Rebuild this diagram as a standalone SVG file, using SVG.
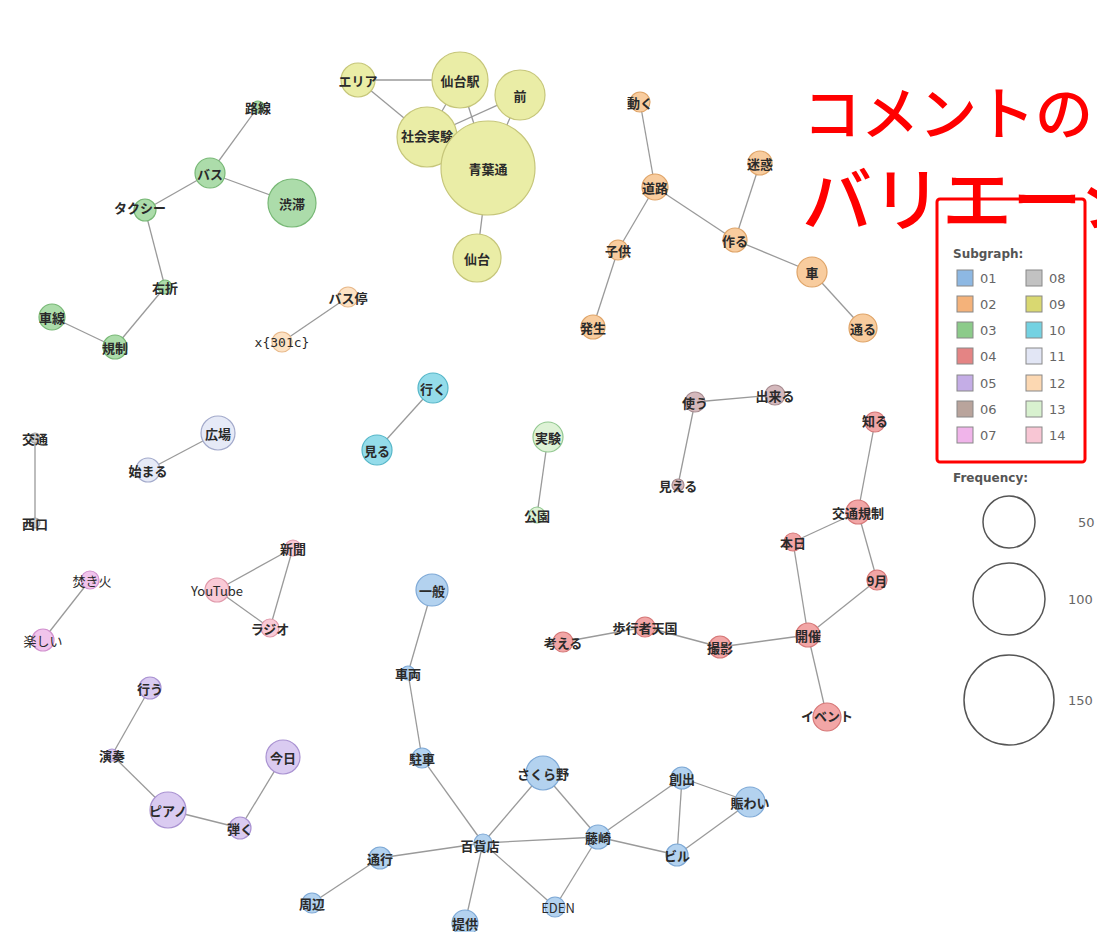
<svg xmlns="http://www.w3.org/2000/svg" width="1097" height="932" viewBox="0 0 1097 932">
<style>
.e{stroke:#9a9a9a;stroke-width:1.3;fill:none}
.n{stroke-width:1.2}
.t{font-family:"Noto Sans CJK JP","Noto Sans",sans-serif;font-size:13px;font-weight:bold;fill:#2a2a2a;text-anchor:middle;dominant-baseline:central}
.g01{fill:#b3d2ef;stroke:#7ea9d6}.g02{fill:#f8cc9e;stroke:#dfa468}.g03{fill:#acdcaa;stroke:#78b876}
.g04{fill:#f2a6a6;stroke:#d67878}.g05{fill:#dacbf1;stroke:#aa93d2}.g06{fill:#d4b8bc;stroke:#a88c90}
.g07{fill:#f1c4ec;stroke:#d292cf}.g08{fill:#d0d0d0;stroke:#a0a0a0}.g09{fill:#eaeda6;stroke:#c6c67a}
.g10{fill:#94dcea;stroke:#55b6c8}.g11{fill:#e6eaf7;stroke:#a3aacb}.g12{fill:#fde2c4;stroke:#e8b98a}
.g13{fill:#def2d6;stroke:#92c890}.g14{fill:#f9cad6;stroke:#e09aab}
.lg{font-family:"DejaVu Sans","Liberation Sans",sans-serif;font-size:13px;fill:#666}
.lh{font-family:"DejaVu Sans","Liberation Sans",sans-serif;font-size:12px;font-weight:bold;fill:#555}
.sq{stroke:#888;stroke-width:1}
.title{font-family:"Noto Sans CJK JP",sans-serif;font-weight:500;fill:#ff0000}
</style>
<rect width="1097" height="932" fill="#ffffff"/>
<g id="connectors">
<line class="e" x1="258" y1="107" x2="210" y2="173"/>
<line class="e" x1="210" y1="173" x2="292" y2="203"/>
<line class="e" x1="210" y1="173" x2="145" y2="210"/>
<line class="e" x1="145" y1="210" x2="165" y2="287"/>
<line class="e" x1="165" y1="287" x2="115" y2="347"/>
<line class="e" x1="115" y1="347" x2="52" y2="317"/>
<line class="e" x1="348" y1="297" x2="282" y2="342"/>
<line class="e" x1="358" y1="80" x2="460" y2="80"/>
<line class="e" x1="358" y1="80" x2="427" y2="137"/>
<line class="e" x1="460" y1="80" x2="427" y2="137"/>
<line class="e" x1="460" y1="80" x2="488" y2="168"/>
<line class="e" x1="520" y1="95" x2="427" y2="137"/>
<line class="e" x1="520" y1="95" x2="488" y2="168"/>
<line class="e" x1="427" y1="137" x2="488" y2="168"/>
<line class="e" x1="488" y1="168" x2="477" y2="258"/>
<line class="e" x1="640" y1="102" x2="655" y2="187"/>
<line class="e" x1="655" y1="187" x2="618" y2="250"/>
<line class="e" x1="618" y1="250" x2="593" y2="327"/>
<line class="e" x1="655" y1="187" x2="735" y2="240"/>
<line class="e" x1="760" y1="163" x2="735" y2="240"/>
<line class="e" x1="735" y1="240" x2="812" y2="272"/>
<line class="e" x1="812" y1="272" x2="863" y2="328"/>
<line class="e" x1="218" y1="433" x2="148" y2="470"/>
<line class="e" x1="35" y1="438" x2="35" y2="523"/>
<line class="e" x1="433" y1="388" x2="377" y2="450"/>
<line class="e" x1="548" y1="437" x2="537" y2="515"/>
<line class="e" x1="695" y1="402" x2="775" y2="395"/>
<line class="e" x1="695" y1="402" x2="678" y2="485"/>
<line class="e" x1="875" y1="422" x2="858" y2="512"/>
<line class="e" x1="858" y1="512" x2="793" y2="542"/>
<line class="e" x1="858" y1="512" x2="877" y2="580"/>
<line class="e" x1="877" y1="580" x2="808" y2="635"/>
<line class="e" x1="793" y1="542" x2="808" y2="635"/>
<line class="e" x1="808" y1="635" x2="827" y2="717"/>
<line class="e" x1="808" y1="635" x2="720" y2="647"/>
<line class="e" x1="720" y1="647" x2="645" y2="627"/>
<line class="e" x1="645" y1="627" x2="563" y2="642"/>
<line class="e" x1="293" y1="548" x2="217" y2="590"/>
<line class="e" x1="293" y1="548" x2="270" y2="628"/>
<line class="e" x1="217" y1="590" x2="270" y2="628"/>
<line class="e" x1="90" y1="580" x2="43" y2="640"/>
<line class="e" x1="150" y1="688" x2="112" y2="755"/>
<line class="e" x1="112" y1="755" x2="168" y2="810"/>
<line class="e" x1="168" y1="810" x2="240" y2="828"/>
<line class="e" x1="240" y1="828" x2="283" y2="757"/>
<line class="e" x1="432" y1="590" x2="408" y2="673"/>
<line class="e" x1="408" y1="673" x2="422" y2="758"/>
<line class="e" x1="422" y1="758" x2="483" y2="843"/>
<line class="e" x1="543" y1="773" x2="483" y2="843"/>
<line class="e" x1="543" y1="773" x2="598" y2="837"/>
<line class="e" x1="483" y1="843" x2="598" y2="837"/>
<line class="e" x1="483" y1="843" x2="380" y2="858"/>
<line class="e" x1="380" y1="858" x2="312" y2="903"/>
<line class="e" x1="483" y1="843" x2="465" y2="923"/>
<line class="e" x1="483" y1="843" x2="555" y2="907"/>
<line class="e" x1="598" y1="837" x2="555" y2="907"/>
<line class="e" x1="598" y1="837" x2="682" y2="778"/>
<line class="e" x1="598" y1="837" x2="677" y2="855"/>
<line class="e" x1="682" y1="778" x2="677" y2="855"/>
<line class="e" x1="682" y1="778" x2="750" y2="802"/>
<line class="e" x1="750" y1="802" x2="677" y2="855"/>
</g>
<g id="title">
<text class="title" x="803" y="135" font-size="58">コメントの</text>
<text class="title" x="802" y="226" font-size="70">バリエーシ</text>
</g>
<g id="n-rosen"><circle class="n g03" cx="258" cy="107" r="6"/><text class="t" x="258" y="107">路線</text></g>
<g id="n-bus"><circle class="n g03" cx="210" cy="173" r="15"/><text class="t" x="210" y="173">バス</text></g>
<g id="n-jutai"><circle class="n g03" cx="292" cy="203" r="24"/><text class="t" x="292" y="203">渋滞</text></g>
<g id="n-taxi"><circle class="n g03" cx="145" cy="210" r="11"/><text class="t" x="140" y="207">タクシー</text></g>
<g id="n-usetsu"><circle class="n g03" cx="165" cy="287" r="7"/><text class="t" x="165" y="287">右折</text></g>
<g id="n-shasen"><circle class="n g03" cx="52" cy="317" r="13"/><text class="t" x="52" y="317">車線</text></g>
<g id="n-kisei"><circle class="n g03" cx="115" cy="347" r="12"/><text class="t" x="115" y="347">規制</text></g>
<g id="n-busstop"><circle class="n g12" cx="348" cy="297" r="10"/><text class="t" x="348" y="297">バス停</text></g>
<g id="n-x301c"><circle class="n g12" cx="282" cy="342" r="10"/><text class="t" x="282" y="342" style="font-weight:normal;font-family:'DejaVu Sans Mono',monospace">x{301c}</text></g>
<g id="n-area"><circle class="n g09" cx="358" cy="80" r="17"/><text class="t" x="358" y="80">エリア</text></g>
<g id="n-sendaieki"><circle class="n g09" cx="460" cy="80" r="28"/><text class="t" x="460" y="80">仙台駅</text></g>
<g id="n-mae"><circle class="n g09" cx="520" cy="95" r="25"/><text class="t" x="520" y="95">前</text></g>
<g id="n-shakai"><circle class="n g09" cx="427" cy="137" r="30"/><text class="t" x="427" y="135">社会実験</text></g>
<g id="n-aoba"><circle class="n g09" cx="488" cy="168" r="47"/><text class="t" x="488" y="168">青葉通</text></g>
<g id="n-sendai"><circle class="n g09" cx="477" cy="258" r="24"/><text class="t" x="477" y="258">仙台</text></g>
<g id="n-ugoku"><circle class="n g02" cx="640" cy="102" r="10"/><text class="t" x="640" y="102">動く</text></g>
<g id="n-doro"><circle class="n g02" cx="655" cy="187" r="13"/><text class="t" x="655" y="187">道路</text></g>
<g id="n-meiwaku"><circle class="n g02" cx="760" cy="163" r="12"/><text class="t" x="760" y="163">迷惑</text></g>
<g id="n-kodomo"><circle class="n g02" cx="618" cy="250" r="10"/><text class="t" x="618" y="250">子供</text></g>
<g id="n-hassei"><circle class="n g02" cx="593" cy="327" r="12"/><text class="t" x="593" y="327">発生</text></g>
<g id="n-tsukuru"><circle class="n g02" cx="735" cy="240" r="12"/><text class="t" x="735" y="240">作る</text></g>
<g id="n-kuruma"><circle class="n g02" cx="812" cy="272" r="15"/><text class="t" x="812" y="272">車</text></g>
<g id="n-tooru"><circle class="n g02" cx="863" cy="328" r="14"/><text class="t" x="863" y="328">通る</text></g>
<g id="n-hiroba"><circle class="n g11" cx="218" cy="433" r="17"/><text class="t" x="218" y="433">広場</text></g>
<g id="n-hajimaru"><circle class="n g11" cx="148" cy="470" r="12"/><text class="t" x="148" y="470">始まる</text></g>
<g id="n-kotsu"><circle class="n g08" cx="35" cy="438" r="5"/><text class="t" x="35" y="438">交通</text></g>
<g id="n-nishiguchi"><circle class="n g08" cx="35" cy="523" r="5"/><text class="t" x="35" y="523">西口</text></g>
<g id="n-iku"><circle class="n g10" cx="433" cy="388" r="15"/><text class="t" x="433" y="388">行く</text></g>
<g id="n-miru"><circle class="n g10" cx="377" cy="450" r="15"/><text class="t" x="377" y="450">見る</text></g>
<g id="n-jikken"><circle class="n g13" cx="548" cy="437" r="15"/><text class="t" x="548" y="437">実験</text></g>
<g id="n-koen"><circle class="n g13" cx="537" cy="515" r="8"/><text class="t" x="537" y="515">公園</text></g>
<g id="n-tsukau"><circle class="n g06" cx="695" cy="402" r="10"/><text class="t" x="695" y="402">使う</text></g>
<g id="n-dekiru"><circle class="n g06" cx="775" cy="395" r="10"/><text class="t" x="775" y="395">出来る</text></g>
<g id="n-mieru"><circle class="n g06" cx="678" cy="485" r="6"/><text class="t" x="678" y="485">見える</text></g>
<g id="n-shiru"><circle class="n g04" cx="875" cy="422" r="10"/><text class="t" x="875" y="420">知る</text></g>
<g id="n-kotsukisei"><circle class="n g04" cx="858" cy="512" r="12"/><text class="t" x="858" y="512">交通規制</text></g>
<g id="n-honjitsu"><circle class="n g04" cx="793" cy="542" r="9"/><text class="t" x="793" y="542">本日</text></g>
<g id="n-9gatsu"><circle class="n g04" cx="877" cy="580" r="10"/><text class="t" x="877" y="580">9月</text></g>
<g id="n-kaisai"><circle class="n g04" cx="808" cy="635" r="12"/><text class="t" x="808" y="635">開催</text></g>
<g id="n-event"><circle class="n g04" cx="827" cy="717" r="14"/><text class="t" x="827" y="715">イベント</text></g>
<g id="n-satsuei"><circle class="n g04" cx="720" cy="647" r="11"/><text class="t" x="720" y="647">撮影</text></g>
<g id="n-hokosha"><circle class="n g04" cx="645" cy="627" r="10"/><text class="t" x="645" y="627">歩行者天国</text></g>
<g id="n-kangaeru"><circle class="n g04" cx="563" cy="642" r="10"/><text class="t" x="563" y="642">考える</text></g>
<g id="n-shinbun"><circle class="n g14" cx="293" cy="548" r="8"/><text class="t" x="293" y="548">新聞</text></g>
<g id="n-youtube"><circle class="n g14" cx="217" cy="590" r="12"/><text class="t" x="217" y="590" style="font-weight:normal">YouTube</text></g>
<g id="n-radio"><circle class="n g14" cx="270" cy="628" r="9"/><text class="t" x="270" y="628">ラジオ</text></g>
<g id="n-takibi"><circle class="n g07" cx="90" cy="580" r="9"/><text class="t" x="92" y="580" style="font-weight:normal">焚き火</text></g>
<g id="n-tanoshii"><circle class="n g07" cx="43" cy="640" r="11"/><text class="t" x="43" y="640" style="font-weight:normal">楽しい</text></g>
<g id="n-okonau"><circle class="n g05" cx="150" cy="688" r="11"/><text class="t" x="150" y="688">行う</text></g>
<g id="n-ensou"><circle class="n g05" cx="112" cy="755" r="6"/><text class="t" x="112" y="755">演奏</text></g>
<g id="n-piano"><circle class="n g05" cx="168" cy="810" r="18"/><text class="t" x="168" y="810">ピアノ</text></g>
<g id="n-hiku"><circle class="n g05" cx="240" cy="828" r="11"/><text class="t" x="240" y="828">弾く</text></g>
<g id="n-kyou"><circle class="n g05" cx="283" cy="757" r="17"/><text class="t" x="283" y="757">今日</text></g>
<g id="n-ippan"><circle class="n g01" cx="432" cy="590" r="16"/><text class="t" x="432" y="590">一般</text></g>
<g id="n-sharyo"><circle class="n g01" cx="408" cy="673" r="7"/><text class="t" x="408" y="673">車両</text></g>
<g id="n-chusha"><circle class="n g01" cx="422" cy="758" r="10"/><text class="t" x="422" y="758">駐車</text></g>
<g id="n-sakurano"><circle class="n g01" cx="543" cy="773" r="17"/><text class="t" x="543" y="773">さくら野</text></g>
<g id="n-hyakkaten"><circle class="n g01" cx="483" cy="843" r="9"/><text class="t" x="480" y="845">百貨店</text></g>
<g id="n-tsuko"><circle class="n g01" cx="380" cy="858" r="11"/><text class="t" x="380" y="858">通行</text></g>
<g id="n-shuhen"><circle class="n g01" cx="312" cy="903" r="10"/><text class="t" x="312" y="903">周辺</text></g>
<g id="n-teikyo"><circle class="n g01" cx="465" cy="923" r="13"/><text class="t" x="465" y="923">提供</text></g>
<g id="n-eden"><circle class="n g01" cx="555" cy="907" r="10"/><text class="t" x="558" y="907" style="font-weight:normal">EDEN</text></g>
<g id="n-fujisaki"><circle class="n g01" cx="598" cy="837" r="12"/><text class="t" x="598" y="837">藤崎</text></g>
<g id="n-soshutsu"><circle class="n g01" cx="682" cy="778" r="11"/><text class="t" x="682" y="778">創出</text></g>
<g id="n-nigiwai"><circle class="n g01" cx="750" cy="802" r="15"/><text class="t" x="750" y="802">賑わい</text></g>
<g id="n-biru"><circle class="n g01" cx="677" cy="855" r="11"/><text class="t" x="677" y="855">ビル</text></g>
<g id="legend">
<rect x="937" y="199" width="148" height="263" rx="3" fill="none" stroke="#ff0000" stroke-width="3"/>
<text class="lh" x="953" y="258">Subgraph:</text>
<rect class="sq" x="957" y="270" width="16" height="16" fill="#8db8e3"/><text class="lg" x="980" y="283">01</text>
<rect class="sq" x="957" y="296" width="16" height="16" fill="#f4b27a"/><text class="lg" x="980" y="309">02</text>
<rect class="sq" x="957" y="322" width="16" height="16" fill="#8ccb8a"/><text class="lg" x="980" y="335">03</text>
<rect class="sq" x="957" y="348" width="16" height="16" fill="#e48484"/><text class="lg" x="980" y="361">04</text>
<rect class="sq" x="957" y="375" width="16" height="16" fill="#c4ade6"/><text class="lg" x="980" y="388">05</text>
<rect class="sq" x="957" y="401" width="16" height="16" fill="#b9a49c"/><text class="lg" x="980" y="414">06</text>
<rect class="sq" x="957" y="427" width="16" height="16" fill="#f0b4ea"/><text class="lg" x="980" y="440">07</text>
<rect class="sq" x="1026" y="270" width="16" height="16" fill="#c2c2c2"/><text class="lg" x="1049" y="283">08</text>
<rect class="sq" x="1026" y="296" width="16" height="16" fill="#d9d871"/><text class="lg" x="1049" y="309">09</text>
<rect class="sq" x="1026" y="322" width="16" height="16" fill="#74d2e2"/><text class="lg" x="1049" y="335">10</text>
<rect class="sq" x="1026" y="348" width="16" height="16" fill="#e2e6f5"/><text class="lg" x="1049" y="361">11</text>
<rect class="sq" x="1026" y="375" width="16" height="16" fill="#fcd8b2"/><text class="lg" x="1049" y="388">12</text>
<rect class="sq" x="1026" y="401" width="16" height="16" fill="#d8f1cf"/><text class="lg" x="1049" y="414">13</text>
<rect class="sq" x="1026" y="427" width="16" height="16" fill="#f8c6d4"/><text class="lg" x="1049" y="440">14</text>
<text class="lh" x="953" y="482">Frequency:</text>
<circle cx="1009" cy="522" r="26" fill="none" stroke="#555" stroke-width="1.5"/>
<circle cx="1009" cy="599" r="36" fill="none" stroke="#555" stroke-width="1.5"/>
<circle cx="1009" cy="700" r="45" fill="none" stroke="#555" stroke-width="1.5"/>
<text class="lg" x="1078" y="527">50</text>
<text class="lg" x="1068" y="604">100</text>
<text class="lg" x="1068" y="705">150</text>
</g>
</svg>
